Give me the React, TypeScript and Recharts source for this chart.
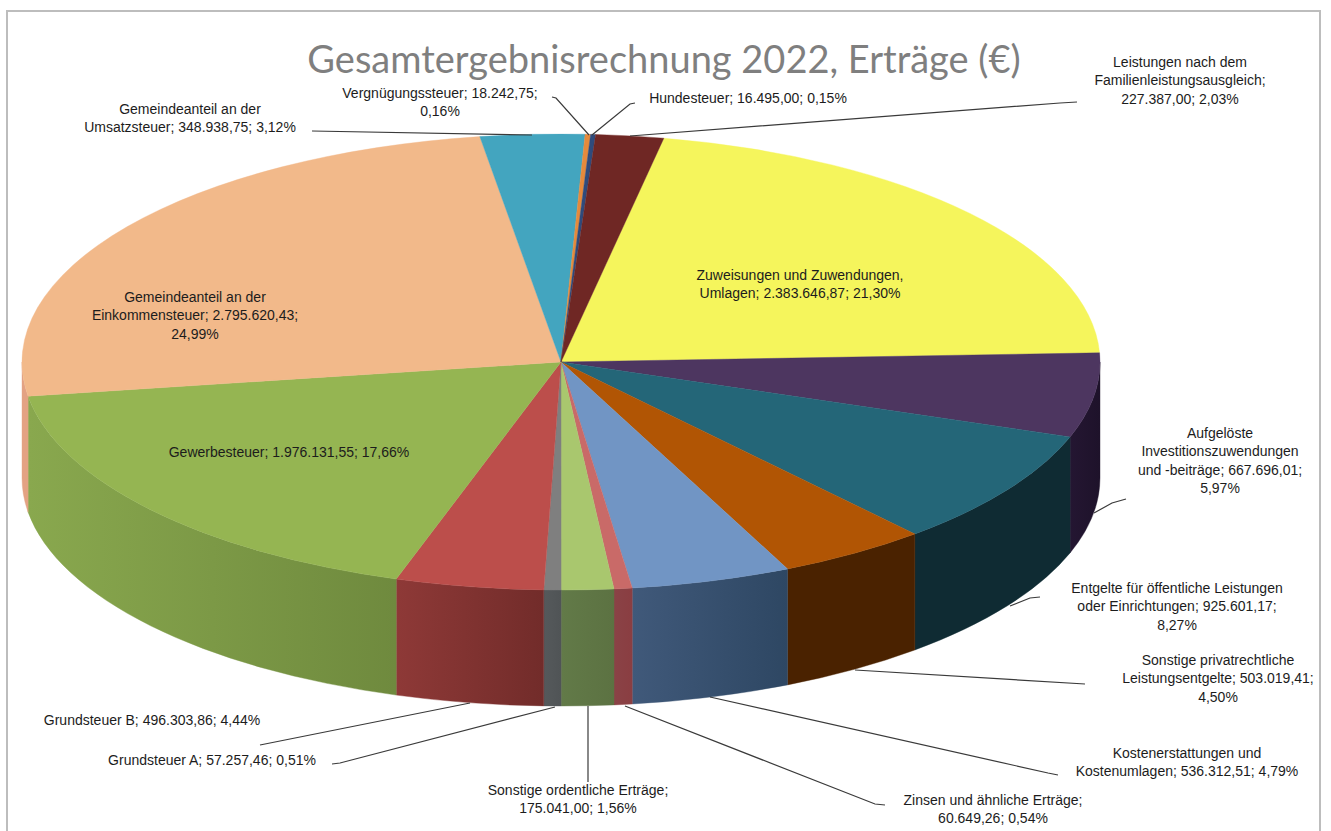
import React from 'react';
import { PieChart, Pie } from 'recharts';

const names = [
  'Zuweisungen und Zuwendungen, Umlagen',
  'Aufgelöste Investitionszuwendungen und -beiträge',
  'Entgelte für öffentliche Leistungen oder Einrichtungen',
  'Sonstige privatrechtliche Leistungsentgelte',
  'Kostenerstattungen und Kostenumlagen',
  'Zinsen und ähnliche Erträge',
  'Sonstige ordentliche Erträge',
  'Grundsteuer A',
  'Grundsteuer B',
  'Gewerbesteuer',
  'Gemeindeanteil an der Einkommensteuer',
  'Gemeindeanteil an der Umsatzsteuer',
  'Vergnügungssteuer',
  'Hundesteuer',
  'Leistungen nach dem Familienleistungsausgleich',
];
const values = [
  2383646.87, 667696.01, 925601.17, 503019.41, 536312.51, 60649.26, 175041.0, 57257.46,
  496303.86, 1976131.55, 2795620.43, 348938.75, 18242.75, 16495.0, 227387.0,
];
const topColors = [
  '#F5F55C', '#4D3660', '#246678', '#B15504', '#7195C4', '#C96A68', '#A9C76E', '#7F7F7F',
  '#BC4E4B', '#95B552', '#F2B98A', '#43A5BF', '#E58A3C', '#2F4B7C', '#6F2724',
];
const wallLeft = [
  '#8A8A30', '#241632', '#0F2B33', '#4A2200', '#40597A', '#8A4246', '#627A48', '#55595B',
  '#8E3937', '#89A84E', '#E3A283', '#2A6A7C', '#9A5A24', '#1E3050', '#481816',
];
const wallRight = [
  '#8A8A30', '#1E122A', '#0F2B33', '#4A2200', '#2E4763', '#8A3E42', '#5C7242', '#505456',
  '#722C2A', '#6F8A3E', '#E3A283', '#2A6A7C', '#9A5A24', '#1E3050', '#481816',
];
const labelLines = [
  ['Zuweisungen und Zuwendungen,', 'Umlagen; 2.383.646,87; 21,30%'],
  ['Aufgelöste', 'Investitionszuwendungen', 'und -beiträge; 667.696,01;', '5,97%'],
  ['Entgelte für öffentliche Leistungen', 'oder Einrichtungen; 925.601,17;', '8,27%'],
  ['Sonstige privatrechtliche', 'Leistungsentgelte; 503.019,41;', '4,50%'],
  ['Kostenerstattungen und', 'Kostenumlagen; 536.312,51; 4,79%'],
  ['Zinsen und ähnliche Erträge;', '60.649,26; 0,54%'],
  ['Sonstige ordentliche Erträge;', '175.041,00; 1,56%'],
  ['Grundsteuer A; 57.257,46; 0,51%'],
  ['Grundsteuer B; 496.303,86; 4,44%'],
  ['Gewerbesteuer; 1.976.131,55; 17,66%'],
  ['Gemeindeanteil an der', 'Einkommensteuer; 2.795.620,43;', '24,99%'],
  ['Gemeindeanteil an der', 'Umsatzsteuer; 348.938,75; 3,12%'],
  ['Vergnügungssteuer; 18.242,75;', '0,16%'],
  ['Hundesteuer; 16.495,00; 0,15%'],
  ['Leistungen nach dem', 'Familienleistungsausgleich;', '227.387,00; 2,03%'],
];

// label placement: text centre x, first line centre y, optional leader polyline
const labelPlacement: { x: number; y: number; leader?: number[][] }[] = [
  { x: 800, y: 275 },
  { x: 1220, y: 433, leader: [[1126, 499], [1112, 503], [1094, 513]] },
  { x: 1177, y: 588, leader: [[1040, 597], [1030, 598], [1010, 606]] },
  { x: 1218, y: 660, leader: [[1085, 684], [855, 670]] },
  { x: 1187, y: 753, leader: [[1058, 775], [1048, 773], [710, 697]] },
  { x: 993, y: 800, leader: [[885, 805], [875, 804], [625, 706]] },
  { x: 578, y: 790, leader: [[588, 782], [588, 706]] },
  { x: 212, y: 760, leader: [[332, 764], [340, 763], [555, 707]] },
  { x: 152, y: 720, leader: [[260, 745], [470, 703]] },
  { x: 289, y: 452 },
  { x: 195, y: 297 },
  { x: 190, y: 109, leader: [[312, 131], [532, 135]] },
  { x: 440, y: 93, leader: [[552, 97], [556, 98], [589, 135]] },
  { x: 748, y: 98, leader: [[635, 103], [630, 104], [592, 135]] },
  { x: 1180, y: 62, leader: [[1077, 102], [1060, 103], [630, 136]] },
];

const chartData = names.map((name, i) => ({ name, value: values[i], idx: i }));

const W = 1331;
const H = 831;
const CX = 561;
const CY = 362;
const RX = 539;
const SQUASH = 228 / 539;
const DEPTH = 116;
const LINE_H = 18.4;
const RAD = Math.PI / 180;

function Slice3D(props: any) {
  const { cx, cy, outerRadius, startAngle, endAngle, payload } = props;
  const R = outerRadius;
  const Ry = R * SQUASH;
  const i = payload?.idx ?? props.idx ?? props.index ?? 0;
  const pt = (a: number) => [cx + R * Math.cos(a * RAD), cy - Ry * Math.sin(a * RAD)];
  const hi = Math.max(startAngle, endAngle);
  const lo = Math.min(startAngle, endAngle);
  const [sx, sy] = pt(hi);
  const [ex, ey] = pt(lo);
  const large = hi - lo > 180 ? 1 : 0;
  const top = `M${cx},${cy}L${sx},${sy}A${R},${Ry} 0 ${large} 1 ${ex},${ey}Z`;

  // the visible outer wall is the front half of the rim (math angles -180..0)
  const wHi = Math.min(hi, 0);
  const wLo = Math.max(lo, -180);
  let wall: React.ReactNode = null;
  if (wHi > wLo) {
    const [ax, ay] = pt(wHi);
    const [bx, by] = pt(wLo);
    const gid = `wall-${i}`;
    wall = (
      <g>
        <defs>
          <linearGradient id={gid} gradientUnits="userSpaceOnUse" x1={bx} x2={ax} y1={0} y2={0}>
            <stop offset="0" stopColor={wallLeft[i]} />
            <stop offset="1" stopColor={wallRight[i]} />
          </linearGradient>
        </defs>
        <path
          d={`M${ax},${ay}A${R},${Ry} 0 0 1 ${bx},${by}L${bx},${by + DEPTH}A${R},${Ry} 0 0 0 ${ax},${ay + DEPTH}Z`}
          fill={`url(#${gid})`}
          stroke={`url(#${gid})`}
          strokeWidth={0.4}
        />
      </g>
    );
  }
  return (
    <g>
      {wall}
      <path d={top} fill={topColors[i]} stroke={topColors[i]} strokeWidth={0.4} />
    </g>
  );
}

function SliceLabel(props: any) {
  const i = props.index;
  const p = labelPlacement[i];
  const lines = labelLines[i];
  return (
    <g>
      {p.leader && (
        <polyline
          points={p.leader.map((q) => q.join(',')).join(' ')}
          fill="none"
          stroke="#3a3a3a"
          strokeWidth={1.2}
        />
      )}
      {lines.map((t, k) => (
        <text
          key={k}
          x={p.x}
          y={p.y + k * LINE_H}
          textAnchor="middle"
          dominantBaseline="central"
          fontFamily="'Liberation Sans', Arial, sans-serif"
          fontSize={14}
          fill="#1c1c1c"
        >
          {t}
        </text>
      ))}
    </g>
  );
}

export default function App() {
  return (
    <div style={{ position: 'absolute', left: 0, top: 0, width: W, height: H, background: '#fff', overflow: 'hidden' }}>
      <div
        style={{
          position: 'absolute',
          left: 6,
          top: 10,
          width: 1315,
          height: 830,
          border: '2px solid #BDBDBD',
          boxSizing: 'border-box',
        }}
      />
      <div style={{ position: 'absolute', left: 0, top: 0 }}>
        <PieChart width={W} height={H} margin={{ top: 0, right: 0, bottom: 0, left: 0 }}>
          <text
            x={664}
            y={58}
            textAnchor="middle"
            dominantBaseline="central"
            fontFamily="Lato, 'Open Sans', sans-serif"
            fontSize={38}
            fill="#7F7F7F"
          >
            Gesamtergebnisrechnung 2022, Erträge (€)
          </text>
          <Pie
            data={chartData}
            dataKey="value"
            nameKey="name"
            cx={CX}
            cy={CY}
            innerRadius={0}
            outerRadius={RX}
            startAngle={79}
            endAngle={-281}
            paddingAngle={0}
            stroke="none"
            shape={Slice3D}
            label={SliceLabel}
            labelLine={false}
            isAnimationActive={false}
          />
        </PieChart>
      </div>
    </div>
  );
}
